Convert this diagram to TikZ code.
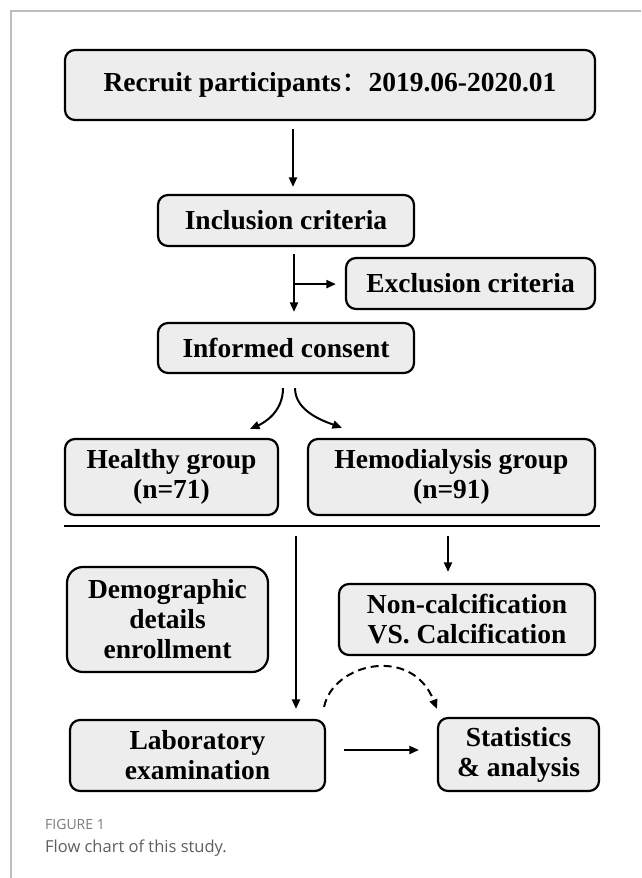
\documentclass[tikz,border=0pt]{standalone}
\usepackage{fontspec}
\usetikzlibrary{arrows.meta,calc}
\newfontfamily\capfont{Open Sans}
\newfontfamily\cjk{Noto Sans CJK SC}
\newfontfamily\palbold{Liberation Serif}[UprightFont=* Bold]
\definecolor{boxgray}{HTML}{EDEDED}
\definecolor{framegray}{HTML}{BDBDBD}
\definecolor{capgrayA}{HTML}{7A7A7A}
\definecolor{capgrayB}{HTML}{5E5E5E}
\tikzset{
  fbox/.style={draw=black, line width=2.2pt, fill=boxgray, rounded corners=10pt,
    inner sep=0pt, align=center, text=black,
    font=\palbold\fontsize{27.5}{30}\selectfont},
  conn/.style={line width=2pt, -{Triangle[length=9.5pt,width=8pt]}},
  dconn/.style={conn, dash pattern=on 8pt off 5pt},
  rulestyle/.style={line width=2.6pt},
  framestyle/.style={draw=framegray, line width=1.2pt}
}
\begin{document}
\begin{tikzpicture}[x=1pt,y=-1pt]
\useasboundingbox (0,0) rectangle (641,878);
% frame
\draw[framestyle] (11,878) -- (11,11) -- (641,11);
% boxes
\node[fbox, minimum width=530pt, minimum height=70pt] (recruit) at (330,85)
  {Recruit participants{\cjk ：}2019.06-2020.01};
\node[fbox, minimum width=256pt, minimum height=51pt] (incl) at (286,220.5) {Inclusion criteria};
\node[fbox, minimum width=249pt, minimum height=51pt] (excl) at (470.5,283.5) {Exclusion criteria};
\node[fbox, minimum width=256pt, minimum height=50pt] (consent) at (286,348) {Informed consent};
\node[fbox, minimum width=213pt, minimum height=76pt] (healthy) at (171.5,477) {Healthy group\\(n=71)};
\node[fbox, minimum width=287pt, minimum height=76pt] (hemo) at (451.5,477) {Hemodialysis group\\(n=91)};
\node[fbox, rounded corners=16pt, minimum width=201pt, minimum height=105pt] (demo) at (167.5,619.5) {Demographic\\details\\enrollment};
\node[fbox, minimum width=256pt, minimum height=71pt] (noncalc) at (467,619.5) {Non-calcification\\VS. Calcification};
\node[fbox, minimum width=255pt, minimum height=71pt] (lab) at (197.5,755.5) {Laboratory\\examination};
\node[fbox, minimum width=161pt, minimum height=73pt] (stats) at (518.5,754.5) {Statistics\\\&~analysis};
% rule
\coordinate (rl) at ($(healthy.south west)+(0,10)$);
\coordinate (rr) at ($(hemo.south east)+(4,10)$);
\draw[rulestyle] (rl) -- (rr);
% connectors
\draw[conn] ($(recruit.south)+(-37,8)$) -- ($(incl.north)+(7,-7)$);
\draw[conn] ($(incl.south)+(8,7)$) -- ($(consent.north)+(8,-10)$);
\coordinate (br) at ($(incl.south)+(8,37)$);
\draw[conn] (br) -- ([xshift=-9pt]br -| excl.west);
\draw[conn] ($(consent.south)+(-3,14)$) .. controls +(0,24) and +(14,-6) .. ($(healthy.north)+(78.5,-9)$);
\draw[conn] ($(consent.south)+(9,14)$) .. controls +(0,24) and +(-16,-6) .. ($(hemo.north)+(-109.5,-10)$);
\draw[conn] ($(hemo.south)+(-3.5,20)$) -- ($(noncalc.north)+(-19,-11)$);
\coordinate (labin) at ($(healthy.south)+(124.5,20)$);
\draw[conn] (labin) -- ($(lab.north)+(98.5,-10)$);
\draw[conn] ($(lab.east)+(18,-5.5)$) -- ($(stats.west)+(-18,-4.5)$);
\draw[dconn] ($(lab.north east)+(-2,-12)$) .. controls (333,663) and (412,645) .. ($(stats.north west)+(0,-8)$);
% caption
\node[anchor=base west, inner sep=0pt, font=\capfont\fontsize{14}{16}\selectfont, text=capgrayA] (fig) at (45,829) {FIGURE 1};
\node[anchor=base west, inner sep=0pt, font=\capfont\fontsize{16.5}{20}\selectfont, text=capgrayB] (captxt) at (45,852) {Flow chart of this study.};
\end{tikzpicture}
\end{document}
